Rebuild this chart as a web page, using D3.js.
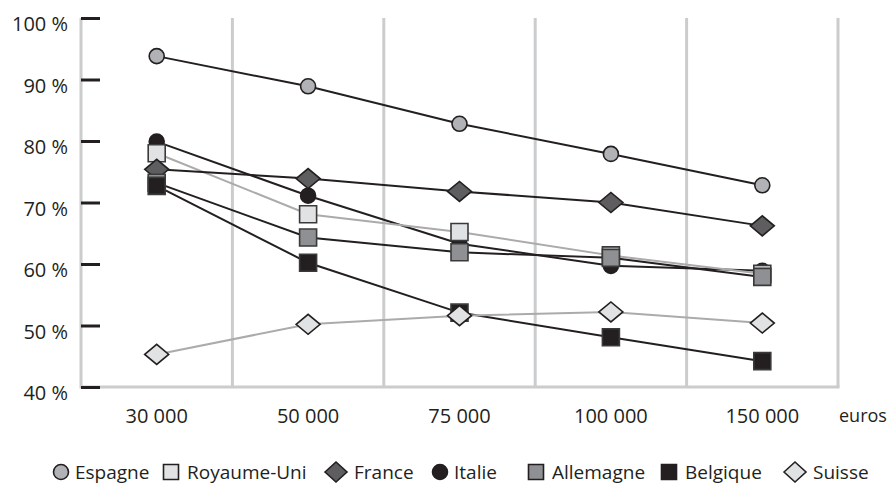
<!DOCTYPE html>
<html lang="fr">
<head>
<meta charset="UTF-8">
<title>Taux par niveau de revenu</title>
<script src="https://cdn.jsdelivr.net/npm/d3@7"></script>
<style>
  body { margin: 0; background: #fff; }
  text { font-family: "Open Sans", sans-serif; fill: #231f20; }
</style>
</head>
<body>
<script>
// revenu annuel (euros)
var categories = ["30 000", "50 000", "75 000", "100 000", "150 000"];
var yTicks = [40, 50, 60, 70, 80, 90, 100];

// valeurs en %
var espagne    = [93.8, 88.9, 82.8, 77.9, 72.8];
var royaumeUni = [78.0, 68.1, 65.2, 61.4, 58.4];
var france     = [75.4, 73.9, 71.8, 70.0, 66.2];
var italie     = [79.9, 71.1, 63.3, 59.7, 58.9];
var allemagne  = [73.2, 64.3, 61.9, 61.0, 57.9];
var belgique   = [72.7, 60.2, 52.1, 48.1, 44.2];
var suisse     = [45.3, 50.2, 51.6, 52.2, 50.4];

// ordre de tracé (Italie sous Royaume-Uni, etc.)
var series = [
  { name: "Espagne",     values: espagne,    shape: "circle",  fill: "#b1b2b5", line: "#231f20" },
  { name: "Italie",      values: italie,     shape: "circle",  fill: "#231f20", line: "#231f20" },
  { name: "Royaume-Uni", values: royaumeUni, shape: "square",  fill: "#e1e2e4", line: "#ababab" },
  { name: "France",      values: france,     shape: "diamond", fill: "#5e5e60", line: "#231f20" },
  { name: "Allemagne",   values: allemagne,  shape: "square",  fill: "#8f9093", line: "#231f20" },
  { name: "Belgique",    values: belgique,   shape: "square",  fill: "#231f20", line: "#231f20" },
  { name: "Suisse",      values: suisse,     shape: "diamond", fill: "#e1e2e4", line: "#ababab" }
];
var legendOrder = ["Espagne", "Royaume-Uni", "France", "Italie", "Allemagne", "Belgique", "Suisse"];
var legendX = [61, 171, 336, 440, 536, 669, 795];

var width = 887, height = 486;
var plotLeft = 81, plotRight = 838, plotTop = 18, plotBottom = 387;

var svg = d3.select("body").append("svg")
    .attr("width", width)
    .attr("height", height);

var x = d3.scaleBand().domain(categories).range([plotLeft, plotRight]);
var y = d3.scaleLinear().domain([40, 100]).range([plotBottom, plotTop]);

function markerPath(shape, s) {
  if (shape === "circle") {
    var r = s.r;
    return "M" + (-r) + ",0A" + r + "," + r + " 0 1,0 " + r + ",0A" + r + "," + r + " 0 1,0 " + (-r) + ",0Z";
  }
  if (shape === "square") {
    var h = s.sq / 2;
    return "M" + (-h) + "," + (-h) + "H" + h + "V" + h + "H" + (-h) + "Z";
  }
  var w = s.dw / 2, v = s.dh / 2;
  return "M" + (-w) + ",0L0," + (-v) + "L" + w + ",0L0," + v + "Z";
}
var chartSize = { r: 7.5, sq: 17, dw: 24, dh: 20 };
var legendSize = { r: 7.5, sq: 15, dw: 22, dh: 20 };

// grille verticale
svg.append("g").selectAll("line")
  .data(categories)
  .enter().append("line")
    .attr("x1", d => x(d) + x.bandwidth())
    .attr("x2", d => x(d) + x.bandwidth())
    .attr("y1", plotTop)
    .attr("y2", plotBottom)
    .attr("stroke", "#cbcccd")
    .attr("stroke-width", 3);

// axe gauche et ligne de base
svg.append("line")
  .attr("x1", plotLeft).attr("x2", plotLeft)
  .attr("y1", plotTop).attr("y2", plotBottom + 1.5)
  .attr("stroke", "#cbcccd").attr("stroke-width", 3);
svg.append("line")
  .attr("x1", plotLeft).attr("x2", plotRight + 1.5)
  .attr("y1", plotBottom).attr("y2", plotBottom)
  .attr("stroke", "#cbcccd").attr("stroke-width", 3);

var yAxis = svg.append("g")
  .attr("transform", "translate(" + plotLeft + ",0)")
  .call(d3.axisLeft(y).tickValues(yTicks).tickSize(-19).tickPadding(13).tickFormat(d => d + " %"));
yAxis.select(".domain").remove();
yAxis.selectAll(".tick line").attr("stroke", "#231f20").attr("stroke-width", 3);
yAxis.selectAll(".tick text")
  .attr("dy", "0.64em")
  .style("font-size", "20px")
  .style("font-family", "'Open Sans', sans-serif")
  .attr("fill", "#231f20");

var xAxis = svg.append("g")
  .attr("transform", "translate(0," + plotBottom + ")")
  .call(d3.axisBottom(x).tickSize(0).tickPadding(22));
xAxis.select(".domain").remove();
xAxis.selectAll(".tick text")
  .style("font-size", "20px")
  .style("font-family", "'Open Sans', sans-serif")
  .attr("fill", "#231f20");

svg.append("text")
  .attr("x", plotRight + 1)
  .attr("y", 422)
  .style("font-size", "18px")
  .text("euros");

// séries
var line = d3.line()
  .x((d, i) => x(categories[i]) + x.bandwidth() / 2)
  .y(d => y(d));

series.forEach(function(s) {
  var g = svg.append("g");
  g.append("path")
    .attr("d", line(s.values))
    .attr("fill", "none")
    .attr("stroke", s.line)
    .attr("stroke-width", 2);
  g.selectAll("path.mark")
    .data(s.values)
    .enter().append("path")
      .attr("class", "mark")
      .attr("transform", (d, i) => "translate(" + (x(categories[i]) + x.bandwidth() / 2) + "," + y(d) + ")")
      .attr("d", markerPath(s.shape, chartSize))
      .attr("fill", s.fill)
      .attr("stroke", s.shape === "square" ? "#3a3a3a" : "#231f20")
      .attr("stroke-width", 1.6);
});

// légende
var legend = svg.append("g")
  .selectAll("g")
  .data(legendOrder)
  .enter().append("g")
    .attr("transform", (d, i) => "translate(" + legendX[i] + ",472)");

legend.append("path")
  .attr("d", d => markerPath(series.find(s => s.name === d).shape, legendSize))
  .attr("fill", d => series.find(s => s.name === d).fill)
  .attr("stroke", "#231f20")
  .attr("stroke-width", 1.6);

legend.append("text")
  .attr("x", d => {
    var sh = series.find(s => s.name === d).shape;
    return sh === "diamond" ? 18 : (sh === "square" ? 16 : 14);
  })
  .attr("y", 7)
  .style("font-size", "19px")
  .text(d => d);
</script>
</body>
</html>
